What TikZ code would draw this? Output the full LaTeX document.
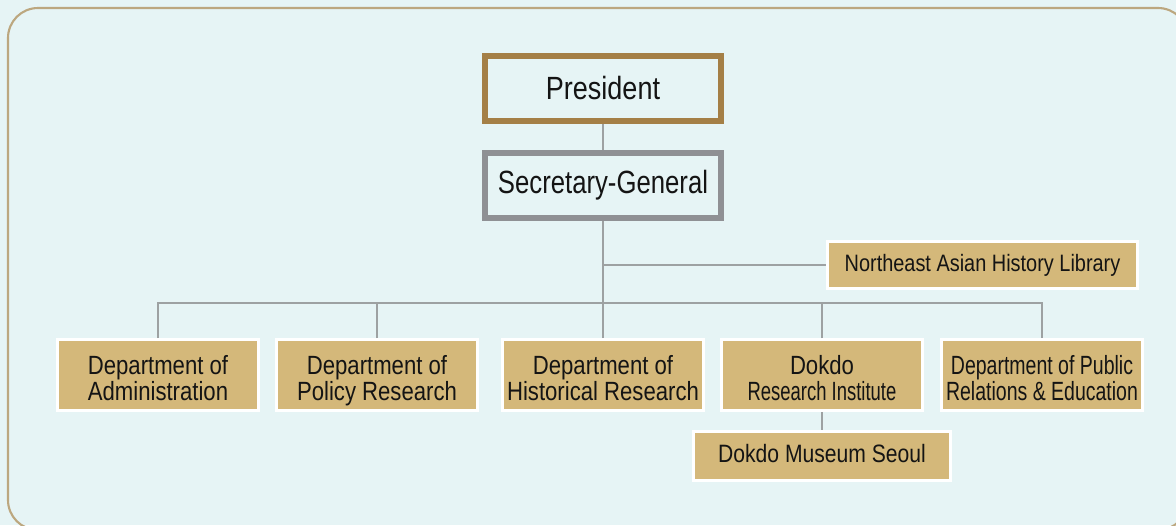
\documentclass[tikz,border=0pt]{standalone}
\usepackage{fontspec}
\setmainfont[FakeStretch=0.84]{Liberation Sans}
\newfontfamily\narrowfont[FakeStretch=0.7]{Liberation Sans}
\newfontfamily\publicfont[FakeStretch=0.74]{Liberation Sans}

\definecolor{bgcyan}{HTML}{E6F4F5}
\definecolor{frameline}{HTML}{BCA77F}
\definecolor{tanfill}{HTML}{D4B87A}
\definecolor{goldline}{HTML}{A47F46}
\definecolor{greyline}{HTML}{8F9094}
\definecolor{linkgrey}{HTML}{9DA1A2}
\definecolor{inkblack}{HTML}{141414}

\tikzset{
	topbox/.style={draw=goldline, line width=0.12cm, fill=bgcyan, minimum width=4.74cm, minimum height=1.3cm, text=inkblack, font=\fontsize{18.3}{20}\selectfont},
	unitbox/.style={draw=white, line width=0.06cm, fill=tanfill, minimum width=4.02cm, minimum height=1.42cm, inner sep=0pt, align=center, text=inkblack, font=\fontsize{15}{14.7}\selectfont,
		execute at begin node={\vphantom{Dg}}, execute at end node={\vphantom{Dg}}},
	link/.style={draw=linkgrey, line width=0.8pt},
}

\begin{document}
\begin{tikzpicture}[x=0.02cm, y=-0.02cm]
		% Fondo
			\useasboundingbox (0,0) rectangle (1176,525);
			\fill[bgcyan] (0,0) rectangle (1176,525);
			\draw[frameline, line width=1.2pt, rounded corners=0.6cm] (8,8) rectangle (1188,530);
		% Direccion
			\node[topbox] (pres) at (603,88.5) {President};
			\node[topbox, draw=greyline, font=\fontsize{18.3}{20}\selectfont\addfontfeature{FakeStretch=0.8}] (secgen) at (603,185) {Secretary-General};
		% Biblioteca
			\node[unitbox, minimum width=6.22cm, minimum height=0.94cm, font=\fontsize{13.5}{15}\selectfont] (library) at (982.5,265) {Northeast Asian History Library};
		% Departamentos
			\node[unitbox] (admin) at (158,375) {\rule{0pt}{17pt}Department of\\Administration};
			\node[unitbox] (policy) at (377,375) {\rule{0pt}{17pt}Department of\\Policy Research};
			\node[unitbox] (history) at (603,375) {\rule{0pt}{17pt}Department of\\Historical Research};
			\node[unitbox] (dokdo) at (822,375) {\rule{0pt}{17pt}Dokdo\\{\narrowfont Research Institute}};
			\node[unitbox, font=\publicfont\fontsize{15}{14.7}\selectfont] (public) at (1042,375) {\rule{0pt}{17pt}Department of Public\\Relations \& Education};
			\node[unitbox, minimum width=5.14cm, minimum height=0.98cm, font=\fontsize{14.3}{16}\selectfont] (museum) at (822,456) {Dokdo Museum Seoul};
		% Lineas
			\coordinate (split) at (603,265);
			\coordinate (bus) at (603,303);
			\draw[link] (pres) -- (secgen);
			\draw[link] (secgen) -- (bus);
			\draw[link] (split) -- (library);
			\draw[link] (admin.north) -- (admin.north |- bus) -- (public.north |- bus) -- (public.north);
			\foreach \dept in {policy, history, dokdo}
				\draw[link] (\dept.north) -- (\dept.north |- bus);
			\draw[link] (dokdo) -- (museum);
	\end{tikzpicture}
\end{document}
